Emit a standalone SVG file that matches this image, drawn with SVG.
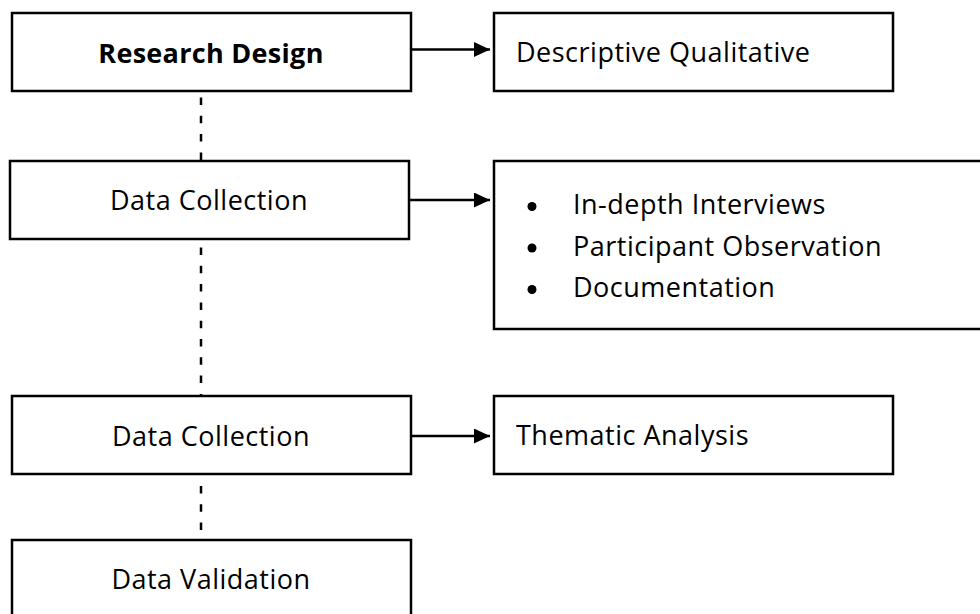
<svg xmlns="http://www.w3.org/2000/svg" width="980" height="614" viewBox="0 0 980 614">
<style>
.box{fill:#fff;stroke:#000;stroke-width:2.5}
.t{font-family:"Open Sans","Liberation Sans",sans-serif;font-size:27px;letter-spacing:0.5px;fill:#000}
.c{text-anchor:middle}
.b{font-weight:bold;letter-spacing:0.3px}
.dash{stroke:#000;stroke-width:2.5;stroke-dasharray:7.5 10.8;fill:none}
.arr{stroke:#000;stroke-width:2.5;fill:none;marker-end:url(#ah)}
</style>
<defs>
<marker id="ah" markerUnits="userSpaceOnUse" markerWidth="16" markerHeight="16" refX="16" refY="7.5" orient="auto">
<path d="M0,0 L16,7.5 L0,15 z" fill="#000"/>
</marker>
</defs>
<rect width="980" height="614" fill="#fff"/>
<g id="connectors">
<line class="dash" x1="201" y1="97.5" x2="201" y2="161"/>
<line class="dash" x1="201" y1="247.5" x2="201" y2="396"/>
<line class="dash" x1="201" y1="486" x2="201" y2="540"/>
<line class="arr" x1="411" y1="49.5" x2="490" y2="49.5"/>
<line class="arr" x1="409" y1="200" x2="490" y2="200"/>
<line class="arr" x1="411" y1="436" x2="490" y2="436"/>
</g>
<g id="research-design">
<rect class="box" x="12" y="13" width="399" height="78"/>
<text class="t c b" x="211" y="62.5">Research Design</text>
</g>
<g id="descriptive-qualitative">
<rect class="box" x="494" y="13" width="399" height="78"/>
<text class="t" x="516" y="62">Descriptive Qualitative</text>
</g>
<g id="data-collection-1">
<rect class="box" x="10" y="161" width="399" height="78"/>
<text class="t c" x="209" y="210">Data Collection</text>
</g>
<g id="methods">
<rect class="box" x="494" y="161" width="520" height="168"/>
<circle cx="532" cy="206.5" r="4.5"/>
<circle cx="532" cy="248" r="4.5"/>
<circle cx="532" cy="289.5" r="4.5"/>
<text class="t" x="573" y="214">In-depth Interviews</text>
<text class="t" x="573" y="255.5">Participant Observation</text>
<text class="t" x="573" y="297">Documentation</text>
</g>
<g id="data-collection-2">
<rect class="box" x="12" y="396" width="399" height="78"/>
<text class="t c" x="211" y="445.5">Data Collection</text>
</g>
<g id="thematic-analysis">
<rect class="box" x="494" y="396" width="399" height="78"/>
<text class="t" x="516" y="445">Thematic Analysis</text>
</g>
<g id="data-validation">
<rect class="box" x="12" y="540" width="399" height="120"/>
<text class="t c" x="211" y="589">Data Validation</text>
</g>
</svg>
